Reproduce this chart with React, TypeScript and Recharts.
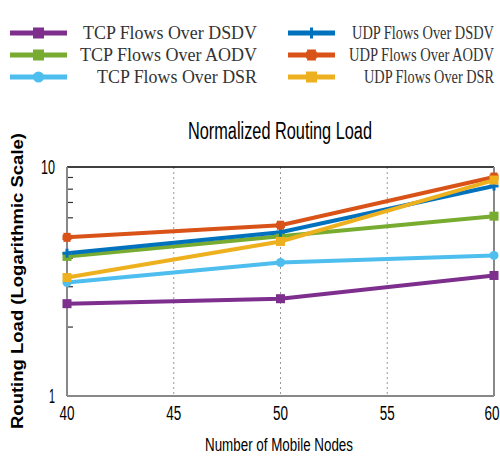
import {
	CartesianGrid,
	Line,
	LineChart,
	ReferenceLine,
	XAxis,
	YAxis,
} from "recharts";

const nodes = [40, 50, 60];
const tcpDsdv = [2.53, 2.66, 3.36];
const tcpAodv = [4.07, 4.98, 6.1];
const tcpDsr = [3.13, 3.83, 4.11];
const udpDsdv = [4.2, 5.19, 8.26];
const udpAodv = [4.93, 5.57, 9.04];
const udpDsr = [3.29, 4.73, 8.77];

const xTicks = [40, 45, 50, 55, 60];
const yTicks = [1, 10];
const yMinorTicks = [2, 3, 4, 5, 6, 7, 8, 9];

type Marker = "square" | "circle" | "plus" | "cross";

const series: {
	key: string;
	name: string;
	color: string;
	marker: Marker;
	values: number[];
}[] = [
	{ key: "tcpDsdv", name: "TCP Flows Over DSDV", color: "#7E2F8E", marker: "square", values: tcpDsdv },
	{ key: "tcpAodv", name: "TCP Flows Over AODV", color: "#77AC30", marker: "square", values: tcpAodv },
	{ key: "tcpDsr", name: "TCP Flows Over DSR", color: "#4DBEEE", marker: "circle", values: tcpDsr },
	{ key: "udpDsdv", name: "UDP Flows Over DSDV", color: "#0072BD", marker: "plus", values: udpDsdv },
	{ key: "udpAodv", name: "UDP Flows Over AODV", color: "#D95319", marker: "cross", values: udpAodv },
	{ key: "udpDsr", name: "UDP Flows Over DSR", color: "#EDB120", marker: "square", values: udpDsr },
];

// legend text widths, the figure's fonts are condensed
const legendWidths = [174, 177, 160, 142, 145, 130];

const data = nodes.map((n, i) => {
	const row: Record<string, number> = { nodes: n };
	series.forEach((s) => {
		row[s.key] = s.values[i];
	});
	return row;
});

function drawMarker(marker: Marker, cx: number, cy: number, color: string, size: number) {
	const h = size / 2;
	if (marker === "square") {
		return <rect x={cx - h} y={cy - h} width={size} height={size} fill={color} />;
	}
	if (marker === "circle") {
		return <circle cx={cx} cy={cy} r={h} fill={color} />;
	}
	if (marker === "plus") {
		return (
			<g stroke={color} strokeWidth={3}>
				<line x1={cx - h} y1={cy} x2={cx + h} y2={cy} />
				<line x1={cx} y1={cy - h} x2={cx} y2={cy + h} />
			</g>
		);
	}
	return (
		<g fill={color}>
			<rect x={cx - h * 0.8} y={cy - h} width={size * 0.8} height={size} />
			<rect x={cx - h} y={cy - h * 0.6} width={size} height={size * 0.6} />
		</g>
	);
}

const makeDot = (marker: Marker, color: string) => (props: any) => {
	const { cx, cy, index } = props;
	if (cx == null || cy == null) return <g key={index} />;
	return <g key={index}>{drawMarker(marker, cx, cy, color, 9)}</g>;
};

const XTick = (props: any) => {
	const { x, y, payload } = props;
	return (
		<text
			x={x}
			y={y + 24}
			textAnchor="middle"
			fontSize={20}
			fontFamily="Liberation Sans, Arial, sans-serif"
			fill="#000"
			textLength={15}
			lengthAdjust="spacingAndGlyphs"
		>
			{payload.value}
		</text>
	);
};

const YTick = (props: any) => {
	const { x, y, payload } = props;
	return (
		<text
			x={x}
			y={y + 7}
			textAnchor="end"
			fontSize={20}
			fontFamily="Liberation Sans, Arial, sans-serif"
			fill="#000"
			textLength={payload.value === 10 ? 14 : 6}
			lengthAdjust="spacingAndGlyphs"
		>
			{payload.value}
		</text>
	);
};

function LegendBox() {
	const rows = [33, 55, 77];
	return (
		<svg width={500} height={100} style={{ position: "absolute", left: 0, top: 0 }}>
			{series.map((s, i) => {
				const col = i < 3 ? 0 : 1;
				const y = rows[i % 3];
				const x1 = col === 0 ? 10 : 288;
				const x2 = col === 0 ? 67 : 335;
				const textEnd = col === 0 ? 257 : 494;
				return (
					<g key={s.key}>
						<line x1={x1} y1={y} x2={x2} y2={y} stroke={s.color} strokeWidth={5} />
						{drawMarker(s.marker, (x1 + x2) / 2, y, s.color, 11)}
						<text
							x={textEnd}
							y={y + 6}
							textAnchor="end"
							fontSize={19}
							fontFamily="Liberation Serif, Times New Roman, serif"
							fill="#333"
							textLength={legendWidths[i]}
							lengthAdjust="spacingAndGlyphs"
						>
							{s.name}
						</text>
					</g>
				);
			})}
		</svg>
	);
}

export default function App() {
	return (
		<div style={{ position: "relative", width: 500, height: 457, background: "#fff" }}>
			<style>{"body{margin:0}"}</style>
			<LineChart
				width={500}
				height={457}
				data={data}
				margin={{ top: 167, right: 6, bottom: 31, left: 0 }}
			>
				<CartesianGrid
					horizontal={false}
					stroke="#999"
					strokeDasharray="2 3"
				/>
				<XAxis
					dataKey="nodes"
					type="number"
					domain={[40, 60]}
					ticks={xTicks}
					height={30}
					tickSize={0}
					tickMargin={0}
					tick={<XTick />}
					axisLine={{ stroke: "#888", strokeWidth: 2 }}
				/>
				<YAxis
					type="number"
					scale="log"
					domain={[1, 10]}
					ticks={yTicks}
					allowDataOverflow
					width={67}
					tickSize={0}
					tickMargin={12}
					tick={<YTick />}
					interval={0}
					axisLine={{ stroke: "#888", strokeWidth: 2 }}
				/>
				{yMinorTicks.map((v) => (
					<ReferenceLine
						key={v}
						segment={[
							{ x: 40, y: v },
							{ x: 40.28, y: v },
						]}
						stroke="#333"
						strokeWidth={1.2}
					/>
				))}
				<ReferenceLine y={10} stroke="#000" strokeWidth={1.5} />
				<ReferenceLine x={60} stroke="#888" strokeWidth={2} />
				{series.map((s) => (
					<Line
						key={s.key}
						dataKey={s.key}
						name={s.name}
						stroke={s.color}
						strokeWidth={4}
						dot={makeDot(s.marker, s.color)}
						activeDot={false}
						isAnimationActive={false}
					/>
				))}
			</LineChart>
			<LegendBox />
			<svg
				width={500}
				height={457}
				style={{ position: "absolute", left: 0, top: 0, pointerEvents: "none" }}
			>
				<text
					x={280}
					y={139}
					textAnchor="middle"
					fontSize={23}
					fontFamily="Liberation Sans, Arial, sans-serif"
					fill="#000"
					textLength={184}
					lengthAdjust="spacingAndGlyphs"
				>
					Normalized Routing Load
				</text>
				<text
					x={279}
					y={451}
					textAnchor="middle"
					fontSize={18}
					fontFamily="Liberation Sans, Arial, sans-serif"
					fill="#000"
					textLength={148}
					lengthAdjust="spacingAndGlyphs"
				>
					Number of Mobile Nodes
				</text>
				<text
					transform="translate(23,281) rotate(-90)"
					textAnchor="middle"
					fontSize={16}
					fontWeight="bold"
					fontFamily="Liberation Sans, Arial, sans-serif"
					fill="#000"
					textLength={296}
					lengthAdjust="spacingAndGlyphs"
				>
					Routing Load (Logarithmic Scale)
				</text>
			</svg>
		</div>
	);
}
